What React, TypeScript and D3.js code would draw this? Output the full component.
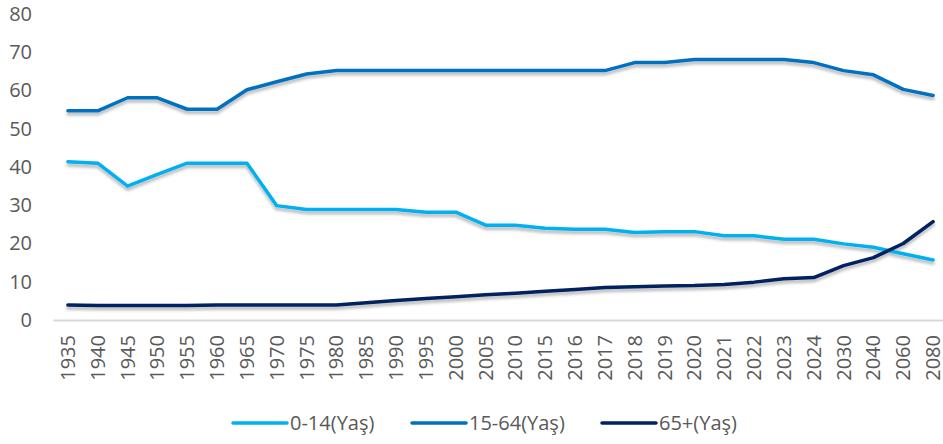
import { useEffect, useRef } from "react";
import { select, scaleBand, scaleLinear, line, axisLeft, axisBottom } from "d3";

const years = [
    "1935", "1940", "1945", "1950", "1955", "1960", "1965", "1970", "1975", "1980",
    "1985", "1990", "1995", "2000", "2005", "2010", "2015", "2016", "2017", "2018",
    "2019", "2020", "2021", "2022", "2023", "2024", "2030", "2040", "2060", "2080",
];

const age0to14 = [
    41.4, 41.0, 35.0, 38.1, 41.0, 41.0, 41.0, 29.9, 28.9, 28.9,
    28.9, 28.9, 28.2, 28.2, 24.8, 24.8, 24.0, 23.7, 23.7, 22.9,
    23.1, 23.1, 22.0, 22.0, 21.1, 21.1, 19.9, 19.0, 17.3, 15.7,
];

const age15to64 = [
    54.7, 54.7, 58.1, 58.1, 55.1, 55.1, 60.2, 62.3, 64.3, 65.2,
    65.2, 65.2, 65.2, 65.2, 65.2, 65.2, 65.2, 65.2, 65.2, 67.3,
    67.3, 68.1, 68.1, 68.1, 68.1, 67.3, 65.2, 64.1, 60.3, 58.7,
];

const age65plus = [
    3.9, 3.8, 3.8, 3.8, 3.8, 3.9, 3.9, 3.9, 3.9, 3.9,
    4.5, 5.1, 5.6, 6.1, 6.6, 7.0, 7.5, 8.0, 8.5, 8.7,
    8.9, 9.0, 9.3, 9.9, 10.8, 11.1, 14.2, 16.3, 20.0, 25.7,
];

const yTicks = [0, 10, 20, 30, 40, 50, 60, 70, 80];

const series = [
    { name: "0-14(Yaş)", values: age0to14, color: "#00B0F0" },
    { name: "15-64(Yaş)", values: age15to64, color: "#0070C0" },
    { name: "65+(Yaş)", values: age65plus, color: "#002060" },
];

const W = 943;
const H = 444;
const FONT = "'Open Sans', 'Noto Sans', sans-serif";
const FONT_SIZE = "20px";
const TEXT = "#595959";

export default function App() {
    const svgRef = useRef<SVGSVGElement>(null);

    useEffect(() => {
        const svg = select(svgRef.current);
        svg.selectAll("*").remove();

        // scales
        const x = scaleBand<string>().domain(years).range([53, 948]);
        const y = scaleLinear().domain([0, 80]).range([320, 14]);
        const cx = (d: string) => (x(d) as number) + x.bandwidth() / 2;

        // soft shadow under the lines
        svg.append("defs")
            .append("filter")
            .attr("id", "shadow")
            .attr("x", "-5%")
            .attr("y", "-20%")
            .attr("width", "110%")
            .attr("height", "140%")
            .append("feDropShadow")
            .attr("dx", 0)
            .attr("dy", 3)
            .attr("stdDeviation", 1.8)
            .attr("flood-color", "#000")
            .attr("flood-opacity", 0.28);

        // y axis, labels only
        const yAxis = svg.append("g")
            .attr("transform", "translate(40,0)")
            .call(axisLeft(y).tickValues(yTicks).tickSize(0).tickPadding(8));
        yAxis.select(".domain").remove();
        yAxis.selectAll("text")
            .attr("fill", TEXT)
            .style("font-family", FONT)
            .style("font-size", FONT_SIZE);

        // x axis
        const xAxis = svg.append("g")
            .attr("transform", `translate(0,${y(0)})`)
            .call(axisBottom(x).tickSize(0).tickSizeOuter(0));
        xAxis.select(".domain")
            .attr("stroke", "#D9D9D9")
            .attr("stroke-width", 2);
        xAxis.selectAll("text")
            .attr("fill", TEXT)
            .style("font-family", FONT)
            .style("font-size", FONT_SIZE)
            .attr("text-anchor", "end")
            .attr("transform", "rotate(-90)")
            .attr("x", -15)
            .attr("y", 0)
            .attr("dy", "0.35em");

        // lines
        const gen = line<number>()
            .x((_, i) => cx(years[i]))
            .y((d) => y(d));

        svg.append("g")
            .attr("filter", "url(#shadow)")
            .selectAll("path")
            .data(series)
            .join("path")
            .attr("fill", "none")
            .attr("stroke", (d) => d.color)
            .attr("stroke-width", 3.5)
            .attr("stroke-linejoin", "round")
            .attr("stroke-linecap", "round")
            .attr("d", (d) => gen(d.values));

        // legend
        const legendX = [233, 412, 602];
        const legend = svg.append("g")
            .selectAll("g")
            .data(series)
            .join("g")
            .attr("transform", (_, i) => `translate(${legendX[i]},423)`);
        legend.append("line")
            .attr("x1", 0)
            .attr("x2", 54)
            .attr("stroke", (d) => d.color)
            .attr("stroke-width", 3.5)
            .attr("stroke-linecap", "round");
        legend.append("text")
            .attr("x", 57)
            .attr("dy", "0.35em")
            .attr("fill", TEXT)
            .style("font-family", FONT)
            .style("font-size", FONT_SIZE)
            .text((d) => d.name);
    }, []);

    return (
        <svg
            ref={svgRef}
            width={W}
            height={H}
            style={{ position: "absolute", left: 0, top: 0, background: "#fff" }}
        />
    );
}
